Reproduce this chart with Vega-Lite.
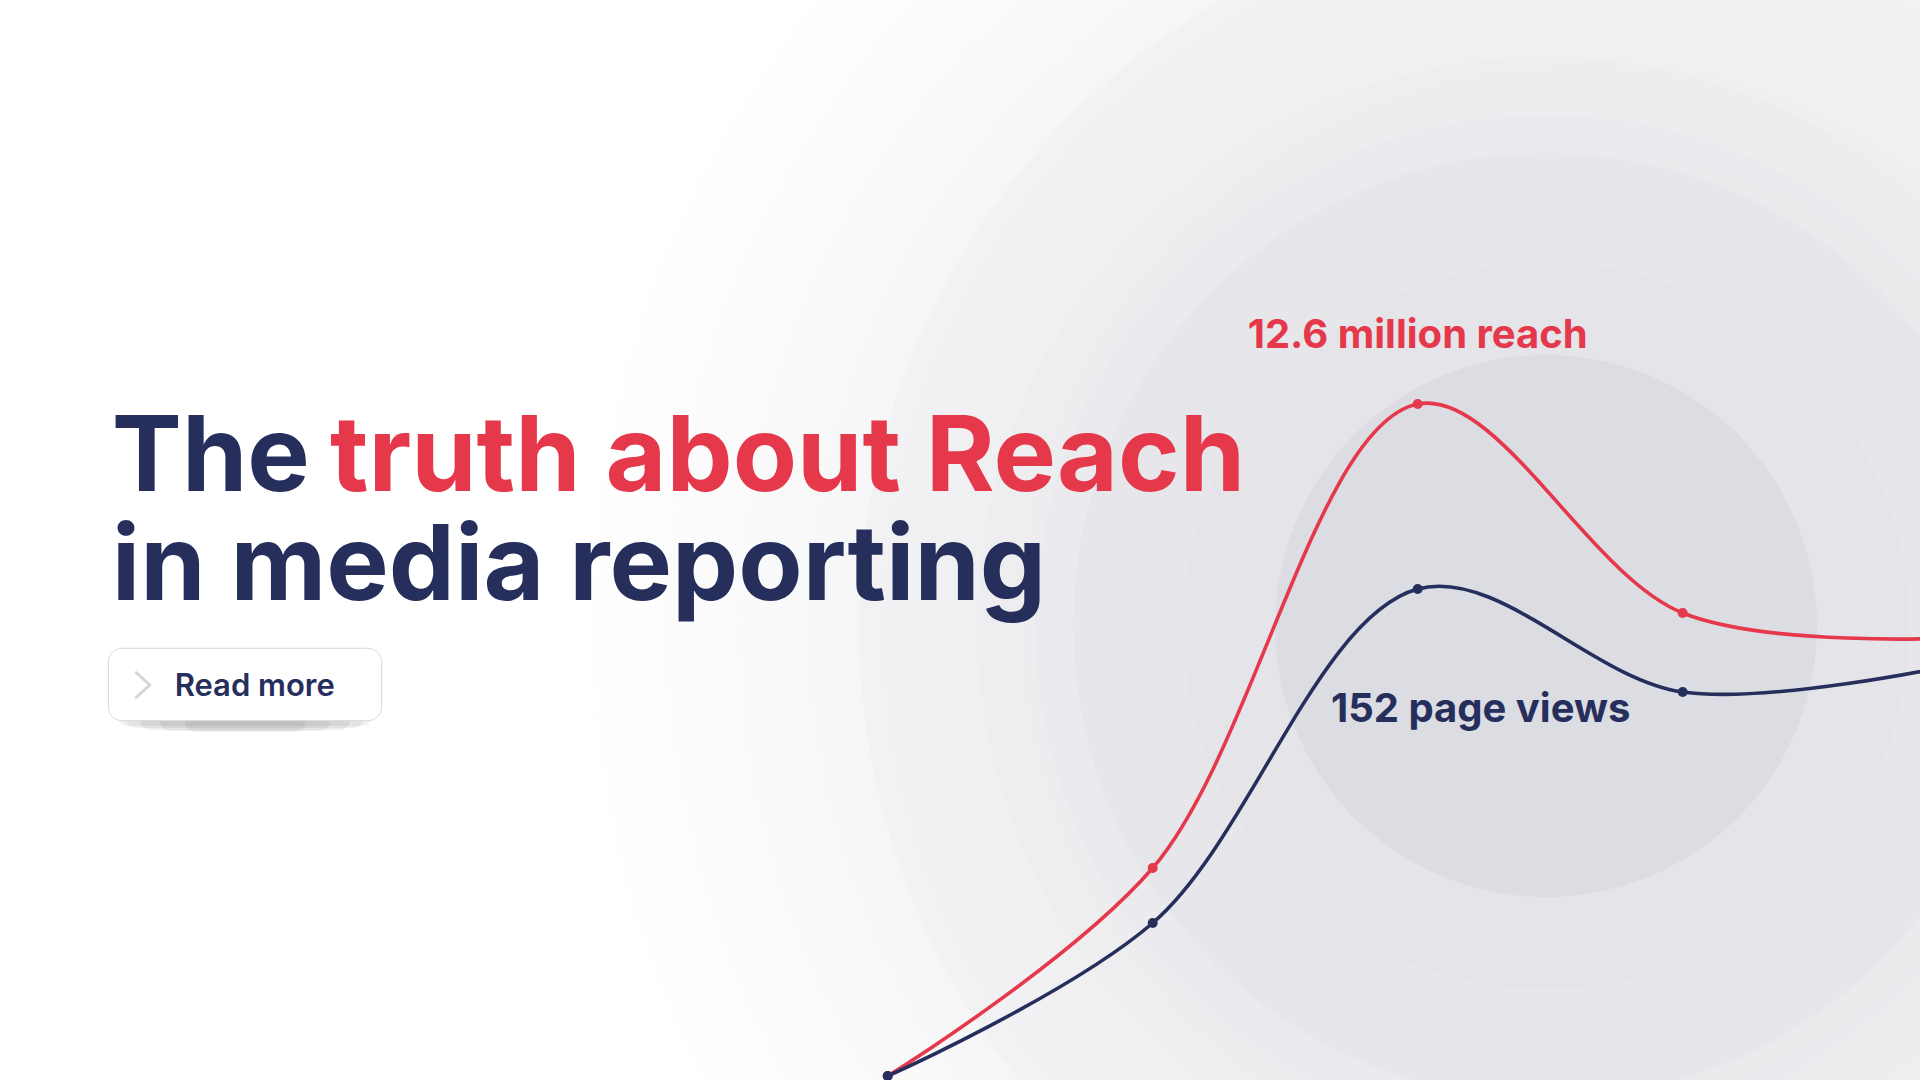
{
  "$schema": "https://vega.github.io/schema/vega-lite/v6.json",
  "width": 1920,
  "height": 1080,
  "autosize": {"type": "none"},
  "padding": 0,
  "background": "#ffffff",
  "view": {"stroke": null},
  "config": {"font": "Inter"},
  "datasets": {
    "trend": [
      {"series": "Reach", "step": 1, "value": 4},
      {"series": "Reach", "step": 2, "value": 212},
      {"series": "Reach", "step": 3, "value": 676},
      {"series": "Reach", "step": 4, "value": 467},
      {"series": "Reach", "step": 5, "value": 442},
      {"series": "Page views", "step": 1, "value": 4},
      {"series": "Page views", "step": 2, "value": 157},
      {"series": "Page views", "step": 3, "value": 491},
      {"series": "Page views", "step": 4, "value": 388},
      {"series": "Page views", "step": 5, "value": 414}
    ],
    "rings": [
      {"ring": "r569"},
      {"ring": "r511"},
      {"ring": "r473"},
      {"ring": "r363"},
      {"ring": "r271"}
    ]
  },
  "resolve": {"scale": {"color": "independent", "size": "independent", "opacity": "independent"}},
  "layer": [
    {
      "data": {"values": [{}]},
      "mark": {
        "type": "point", "shape": "circle", "filled": true, "opacity": 1, "size": 7840000,
        "fill": {
          "gradient": "radial", "x1": 0.5, "y1": 0.5, "r1": 0, "x2": 0.5, "y2": 0.5, "r2": 0.5,
          "stops": [
            {"offset": 0, "color": "#f3f3f5"},
            {"offset": 0.5, "color": "#f5f5f7"},
            {"offset": 0.55, "color": "#f8f8f9"},
            {"offset": 0.62, "color": "#fbfbfc"},
            {"offset": 0.72, "color": "#ffffff"},
            {"offset": 1, "color": "#ffffff"}
          ]
        }
      },
      "encoding": {
        "x": {"datum": 3.62, "type": "quantitative", "scale": {"domain": [-2.3498, 4.8955], "nice": false, "zero": false}, "axis": null},
        "y": {"datum": 453, "type": "quantitative", "scale": {"domain": [0, 1080], "nice": false, "zero": false}, "axis": null}
      }
    },
    {
      "data": {"values": [{}]},
      "mark": {
        "type": "point", "shape": "circle", "filled": true, "opacity": 1, "size": 2090916,
        "fill": {
          "gradient": "radial", "x1": 0.5, "y1": 0.5, "r1": 0, "x2": 0.5, "y2": 0.5, "r2": 0.5,
          "stops": [
            {"offset": 0, "color": "#ebebef"},
            {"offset": 0.65, "color": "#eeeef1"},
            {"offset": 1, "color": "#f2f2f4"}
          ]
        }
      },
      "encoding": {
        "x": {"datum": 3.62, "type": "quantitative", "scale": {"domain": [-2.3498, 4.8955], "nice": false, "zero": false}, "axis": null},
        "y": {"datum": 453, "type": "quantitative", "scale": {"domain": [0, 1080], "nice": false, "zero": false}, "axis": null}
      }
    },
    {
      "data": {"name": "rings"},
      "mark": {"type": "point", "shape": "circle", "filled": true, "strokeWidth": 0},
      "encoding": {
        "x": {"datum": 3.4842, "type": "quantitative", "scale": {"domain": [-2.3498, 4.8955], "nice": false, "zero": false}, "axis": null},
        "y": {"datum": 454, "type": "quantitative", "scale": {"domain": [0, 1080], "nice": false, "zero": false}, "axis": null},
        "size": {
          "field": "ring", "type": "nominal", "legend": null,
          "scale": {"type": "ordinal", "domain": ["r569", "r511", "r473", "r363", "r271"], "range": [1295044, 1044484, 894916, 527076, 293764]}
        },
        "color": {
          "field": "ring", "type": "nominal", "legend": null,
          "scale": {"domain": ["r569", "r511", "r473", "r363", "r271"], "range": ["#d8d8e0", "#d8d8e0", "#e6e6eb", "#e4e4e9", "#dcdce3"]}
        },
        "opacity": {
          "field": "ring", "type": "nominal", "legend": null,
          "scale": {"type": "ordinal", "domain": ["r569", "r511", "r473", "r363", "r271"], "range": [0.06, 0.07, 1, 1, 1]}
        }
      }
    },
    {
      "data": {"values": [{"label": "The"}]},
      "mark": {"type": "text", "align": "left", "baseline": "alphabetic", "font": "Inter", "fontSize": 105, "fontWeight": 700, "color": "#262f5c"},
      "encoding": {
        "x": {"datum": -1.9279, "type": "quantitative", "scale": {"domain": [-2.3498, 4.8955], "nice": false, "zero": false}, "axis": null},
        "y": {"datum": 589, "type": "quantitative", "scale": {"domain": [0, 1080], "nice": false, "zero": false}, "axis": null},
        "text": {"field": "label"}
      }
    },
    {
      "data": {"values": [{"label": "truth about Reach"}]},
      "mark": {"type": "text", "align": "left", "baseline": "alphabetic", "font": "Inter", "fontSize": 105, "fontWeight": 700, "color": "#e5384b"},
      "encoding": {
        "x": {"datum": -1.1045, "type": "quantitative", "scale": {"domain": [-2.3498, 4.8955], "nice": false, "zero": false}, "axis": null},
        "y": {"datum": 589, "type": "quantitative", "scale": {"domain": [0, 1080], "nice": false, "zero": false}, "axis": null},
        "text": {"field": "label"}
      }
    },
    {
      "data": {"values": [{"label": "in media reporting"}]},
      "mark": {"type": "text", "align": "left", "baseline": "alphabetic", "font": "Inter", "fontSize": 105, "fontWeight": 700, "color": "#262f5c"},
      "encoding": {
        "x": {"datum": -1.9279, "type": "quantitative", "scale": {"domain": [-2.3498, 4.8955], "nice": false, "zero": false}, "axis": null},
        "y": {"datum": 480, "type": "quantitative", "scale": {"domain": [0, 1080], "nice": false, "zero": false}, "axis": null},
        "text": {"field": "label"}
      }
    },
    {
      "data": {"values": [
        {"x1": -1.9045, "x2": -0.946, "y1": 380, "y2": 354},
        {"x1": -1.8743, "x2": -0.9762, "y1": 380, "y2": 352},
        {"x1": -1.8215, "x2": -1.0291, "y1": 380, "y2": 350},
        {"x1": -1.7460, "x2": -1.1045, "y1": 380, "y2": 349},
        {"x1": -1.6517, "x2": -1.1989, "y1": 380, "y2": 348}
      ]},
      "mark": {"type": "rect", "cornerRadius": 10, "color": "#000000", "opacity": 0.055},
      "encoding": {
        "x": {"field": "x1", "type": "quantitative", "scale": {"domain": [-2.3498, 4.8955], "nice": false, "zero": false}, "axis": null},
        "x2": {"field": "x2"},
        "y": {"field": "y1", "type": "quantitative", "scale": {"domain": [0, 1080], "nice": false, "zero": false}, "axis": null},
        "y2": {"field": "y2"}
      }
    },
    {
      "data": {"values": [{}]},
      "mark": {"type": "rect", "cornerRadius": 14, "fill": "#ffffff", "stroke": "#d8d8dd", "strokeWidth": 1},
      "encoding": {
        "x": {"datum": -1.9411, "type": "quantitative", "scale": {"domain": [-2.3498, 4.8955], "nice": false, "zero": false}, "axis": null},
        "x2": {"datum": -0.9094},
        "y": {"datum": 431.7, "type": "quantitative", "scale": {"domain": [0, 1080], "nice": false, "zero": false}, "axis": null},
        "y2": {"datum": 359.3}
      }
    },
    {
      "data": {"values": [{}]},
      "mark": {"type": "point", "shape": "M-0.55,-1L0.55,0L-0.55,1", "filled": false, "opacity": 1, "size": 625, "stroke": "#d5d5d9", "strokeWidth": 3, "strokeCap": "round", "strokeJoin": "round"},
      "encoding": {
        "x": {"datum": -1.8102, "type": "quantitative", "scale": {"domain": [-2.3498, 4.8955], "nice": false, "zero": false}, "axis": null},
        "y": {"datum": 395, "type": "quantitative", "scale": {"domain": [0, 1080], "nice": false, "zero": false}, "axis": null}
      }
    },
    {
      "data": {"values": [{"label": "Read more"}]},
      "mark": {"type": "text", "align": "left", "baseline": "alphabetic", "font": "Inter", "fontSize": 31, "fontWeight": 600, "color": "#262f5c"},
      "encoding": {
        "x": {"datum": -1.6908, "type": "quantitative", "scale": {"domain": [-2.3498, 4.8955], "nice": false, "zero": false}, "axis": null},
        "y": {"datum": 384, "type": "quantitative", "scale": {"domain": [0, 1080], "nice": false, "zero": false}, "axis": null},
        "text": {"field": "label"}
      }
    },
    {
      "data": {"name": "trend"},
      "mark": {"type": "line", "interpolate": "catmull-rom", "strokeWidth": 3.6, "strokeCap": "round"},
      "encoding": {
        "x": {"field": "step", "type": "quantitative", "scale": {"domain": [-2.3498, 4.8955], "nice": false, "zero": false}, "axis": null},
        "y": {"field": "value", "type": "quantitative", "scale": {"domain": [0, 1080], "nice": false, "zero": false}, "axis": null},
        "stroke": {"field": "series", "type": "nominal", "legend": null, "scale": {"domain": ["Reach", "Page views"], "range": ["#e5384b", "#262f5c"]}}
      }
    },
    {
      "data": {"name": "trend"},
      "mark": {"type": "point", "shape": "circle", "filled": true, "opacity": 1, "size": 100},
      "encoding": {
        "x": {"field": "step", "type": "quantitative", "scale": {"domain": [-2.3498, 4.8955], "nice": false, "zero": false}, "axis": null},
        "y": {"field": "value", "type": "quantitative", "scale": {"domain": [0, 1080], "nice": false, "zero": false}, "axis": null},
        "fill": {"field": "series", "type": "nominal", "legend": null, "scale": {"domain": ["Reach", "Page views"], "range": ["#e5384b", "#262f5c"]}}
      }
    },
    {
      "data": {"values": [{"label": "12.6 million reach"}]},
      "mark": {"type": "text", "align": "center", "baseline": "alphabetic", "font": "Inter", "fontSize": 40, "fontWeight": 700, "color": "#e5384b"},
      "encoding": {
        "x": {"datum": 3.0, "type": "quantitative", "scale": {"domain": [-2.3498, 4.8955], "nice": false, "zero": false}, "axis": null},
        "y": {"datum": 732, "type": "quantitative", "scale": {"domain": [0, 1080], "nice": false, "zero": false}, "axis": null},
        "text": {"field": "label"}
      }
    },
    {
      "data": {"values": [{"label": "152 page views"}]},
      "mark": {"type": "text", "align": "left", "baseline": "alphabetic", "font": "Inter", "fontSize": 40, "fontWeight": 700, "color": "#262f5c"},
      "encoding": {
        "x": {"datum": 2.6728, "type": "quantitative", "scale": {"domain": [-2.3498, 4.8955], "nice": false, "zero": false}, "axis": null},
        "y": {"datum": 358, "type": "quantitative", "scale": {"domain": [0, 1080], "nice": false, "zero": false}, "axis": null},
        "text": {"field": "label"}
      }
    }
  ]
}
